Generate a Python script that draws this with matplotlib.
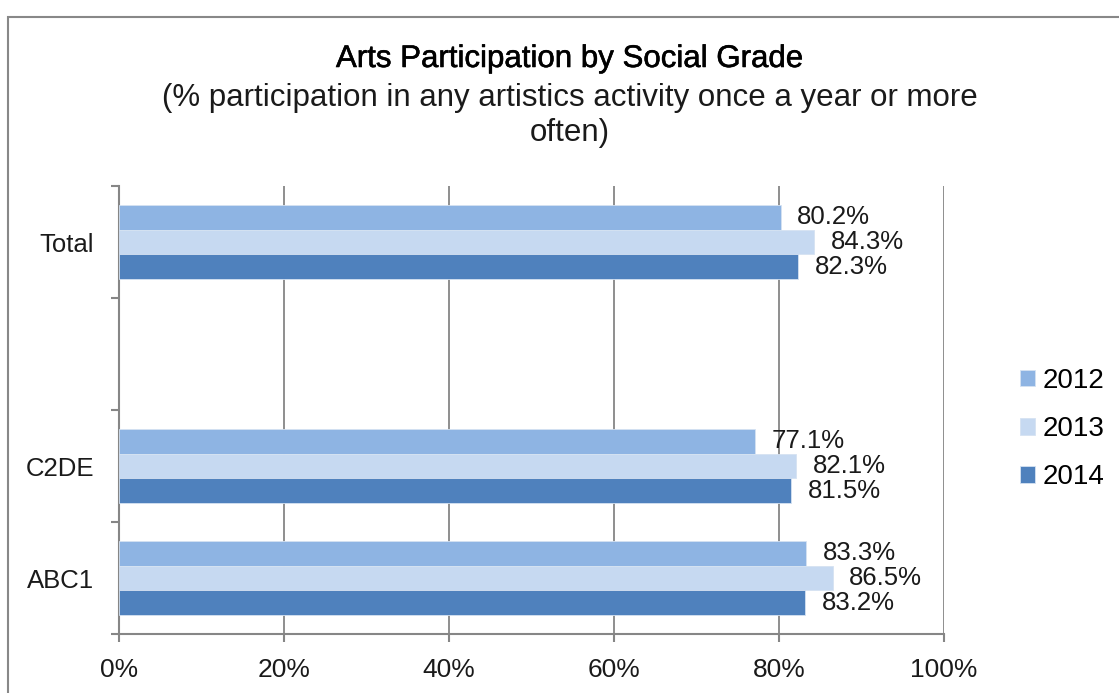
import numpy as np
import matplotlib
matplotlib.use("Agg")
import matplotlib.pyplot as plt
import matplotlib.patheffects as pe
from matplotlib.patches import Rectangle

categories = ["ABC1", "C2DE", "", "Total"]
years = ["2012", "2013", "2014"]
vals_2012 = [83.3, 77.1, np.nan, 80.2]
vals_2013 = [86.5, 82.1, np.nan, 84.3]
vals_2014 = [83.2, 81.5, np.nan, 82.3]
colors = ["#8EB4E3", "#C6D9F1", "#4F81BD"]
x_ticks = [0, 20, 40, 60, 80, 100]

plt.rcParams["font.family"] = ["Liberation Sans", "DejaVu Sans"]

def main():
    fig = plt.figure(figsize=(11.19, 6.93), dpi=100)
    ax = fig.add_axes([119 / 1119, 1 - 634 / 693, 825 / 1119, 448 / 693])

    # outer chart border (cut off at right/bottom like the reference)
    fig.add_artist(Rectangle((8 / 1119, -0.05), 1.2, 1 - 17 / 693 + 0.05,
                             transform=fig.transFigure, fill=False,
                             edgecolor="#888888", linewidth=1.5))

    pos = np.arange(len(categories))
    h = 0.223
    offsets = [h, 0, -h]
    series = [vals_2012, vals_2013, vals_2014]
    for s, off, c, yr in zip(series, offsets, colors, years):
        ax.barh(pos + off, s, height=h, color=c, edgecolor="#D5E2F2",
                linewidth=0.6, label=yr, zorder=3)
        for p, v in zip(pos, s):
            if np.isnan(v):
                continue
            ax.annotate(f"{v:.1f}%", (v, p + off), xytext=(12, 0),
                        textcoords="offset points", ha="left", va="center",
                        fontsize=18.5, color="#1a1a1a", zorder=4)

    ax.set_xlim(0, 100)
    ax.set_ylim(-0.5, len(categories) - 0.5)
    ax.set_xticks(x_ticks)
    ax.set_xticklabels([f"{t}%" for t in x_ticks])
    ax.set_yticks(np.arange(-0.5, len(categories)))
    ax.set_yticklabels([])
    ax.set_yticks(pos, minor=True)
    ax.set_yticklabels(categories, minor=True)

    ax.tick_params(axis="y", which="major", length=6, width=1.5, color="#868686")
    ax.tick_params(axis="y", which="minor", length=0, pad=18, labelsize=18.5,
                   labelcolor="#1a1a1a")
    ax.tick_params(axis="x", length=6, width=1.5, color="#868686",
                   pad=11, labelsize=19, labelcolor="#1a1a1a")

    ax.grid(True, axis="x", color="#868686", linewidth=1.3, zorder=0)
    for side in ["top", "right"]:
        ax.spines[side].set_visible(False)
    for side in ["left", "bottom"]:
        ax.spines[side].set_color("#868686")
        ax.spines[side].set_linewidth(1.5)

    fig.text(570 / 1119, 1 - 59 / 693, "Arts Participation by Social Grade",
             ha="center", va="center", fontsize=22.5, color="black",
             path_effects=[pe.withStroke(linewidth=0.4, foreground="black")])
    fig.text(570 / 1119, 1 - 98 / 693,
             "(% participation in any artistics activity once a year or more",
             ha="center", va="center", fontsize=22.5, color="#1a1a1a")
    fig.text(570 / 1119, 1 - 133 / 693, "often)",
             ha="center", va="center", fontsize=22.5, color="#1a1a1a")

    ax.legend(loc="center left", bbox_to_anchor=(1020 / 1119, 1 - 429 / 693),
              bbox_transform=fig.transFigure, frameon=False, fontsize=20,
              handlelength=0.55, handleheight=0.55, handletextpad=0.25,
              labelspacing=0.8, borderaxespad=0, borderpad=0)

    fig.savefig("out.png", dpi=100)

if __name__ == "__main__":
    main()
